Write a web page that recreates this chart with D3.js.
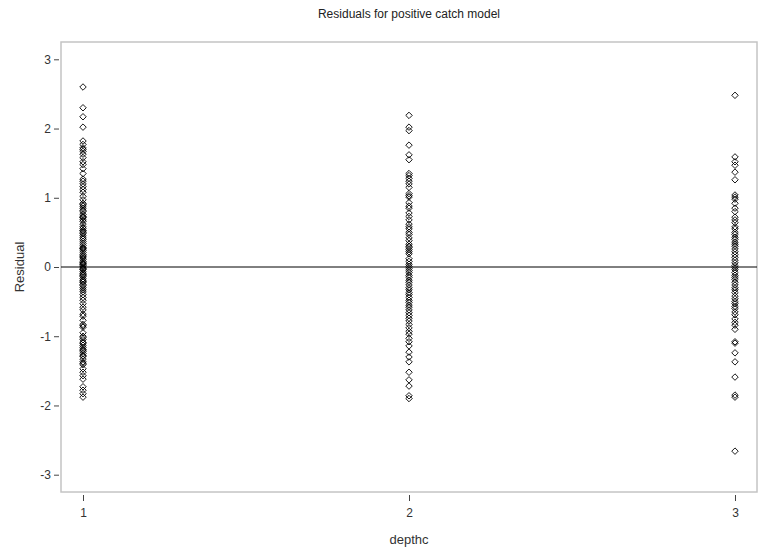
<!DOCTYPE html>
<html>
<head>
<meta charset="utf-8">
<script src="https://cdn.jsdelivr.net/npm/d3@7"></script>
<style>
  body { margin: 0; background: #fff; }
  svg { display: block; font-family: "Liberation Sans", Arial, sans-serif; }
  .tick text { fill: #333; font-size: 12px; }
  .tick line { stroke: #444; }
  .domain { display: none; }
</style>
</head>
<body>
<svg id="chart" width="768" height="548"></svg>
<script>
// residuals by depth class
const DEPTHS = [1, 2, 3];
const depth1 = [2.60, 2.30, 2.17, 2.02, 1.82, 1.77, 1.72, 1.70, 1.67, 1.63, 1.58, 1.52, 1.48, 1.42,
  1.35, 1.27, 1.24, 1.20, 1.16, 1.12, 1.08, 1.02, 0.97, 0.92, 0.90, 0.88, 0.85, 0.82, 0.80, 0.76,
  0.73, 0.72, 0.71, 0.68, 0.66, 0.62, 0.58, 0.56, 0.53, 0.52, 0.50, 0.48, 0.45, 0.42, 0.40, 0.37,
  0.34, 0.31, 0.28, 0.27, 0.26, 0.24, 0.21, 0.18, 0.16, 0.15, 0.13, 0.11, 0.08, 0.06, 0.05, 0.04,
  0.02, 0.00, -0.02, -0.03, -0.04, -0.07, -0.09, -0.11, -0.12, -0.14, -0.17, -0.19, -0.21, -0.22,
  -0.25, -0.27, -0.30, -0.33, -0.36, -0.40, -0.44, -0.48, -0.53, -0.58, -0.62, -0.68, -0.71, -0.77,
  -0.83, -0.85, -0.87, -0.95, -1.00, -1.02, -1.05, -1.09, -1.10, -1.13, -1.16, -1.19, -1.20, -1.22,
  -1.25, -1.28, -1.29, -1.33, -1.37, -1.39, -1.41, -1.47, -1.52, -1.57, -1.62, -1.73, -1.78, -1.83, -1.88];
const depth2 = [2.19, 2.02, 1.97, 1.76, 1.62, 1.55, 1.35, 1.32, 1.28, 1.24, 1.20, 1.15, 1.06, 1.03,
  1.01, 0.93, 0.88, 0.85, 0.78, 0.73, 0.68, 0.62, 0.58, 0.55, 0.50, 0.47, 0.42, 0.38, 0.33, 0.30,
  0.28, 0.25, 0.22, 0.19, 0.12, 0.08, 0.04, 0.01, -0.02, -0.05, -0.08, -0.12, -0.15, -0.19, -0.22,
  -0.26, -0.30, -0.33, -0.37, -0.40, -0.44, -0.48, -0.51, -0.55, -0.58, -0.62, -0.66, -0.70, -0.74,
  -0.78, -0.83, -0.88, -0.93, -0.97, -1.03, -1.08, -1.14, -1.23, -1.30, -1.37, -1.52, -1.63, -1.72,
  -1.86, -1.90];
const depth3 = [2.48, 1.59, 1.52, 1.47, 1.37, 1.26, 1.04, 1.01, 0.98, 0.92, 0.85, 0.80, 0.72, 0.68,
  0.64, 0.58, 0.55, 0.50, 0.47, 0.43, 0.40, 0.36, 0.33, 0.30, 0.26, 0.22, 0.18, 0.14, 0.10, 0.06,
  0.02, -0.01, -0.04, -0.08, -0.12, -0.15, -0.18, -0.22, -0.26, -0.30, -0.33, -0.37, -0.42, -0.46,
  -0.50, -0.53, -0.57, -0.60, -0.65, -0.69, -0.75, -0.80, -0.84, -0.90, -1.08, -1.10, -1.24, -1.37,
  -1.59, -1.85, -1.88, -2.66];
const Y_TICKS = [-3, -2, -1, 0, 1, 2, 3];

const VW = 768, VH = 548;
const M = { top: 42, right: 11, bottom: 56, left: 61 };
const W = VW - M.left - M.right;
const H = VH - M.top - M.bottom;

const svg = d3.select("#chart");
const g = svg.append("g").attr("transform", `translate(${M.left},${M.top})`);

const x = d3.scaleLinear().domain([0.9325, 3.0675]).range([0, W]);
const y = d3.scaleLinear().domain([-3.25, 3.25]).range([H, 0]);

// Frame
g.append("rect").attr("width", W).attr("height", H)
  .attr("fill", "none").attr("stroke", "#c4c4c4").attr("stroke-width", 1.5);

// Axes (ticks sit just outside the frame), plain hyphen for negatives
g.append("g").attr("transform", `translate(-2,0)`)
  .call(d3.axisLeft(y).tickValues(Y_TICKS).tickFormat(d => String(d)).tickSize(5).tickPadding(3));
g.append("g").attr("transform", `translate(0,${H + 3})`)
  .call(d3.axisBottom(x).tickValues(DEPTHS).tickFormat(d => String(d)).tickSize(6).tickPadding(7));

// Zero reference line
g.append("line").attr("x1", 0).attr("x2", W)
  .attr("y1", y(0)).attr("y2", y(0))
  .attr("stroke", "#000").attr("stroke-width", 1);

// Square diamond marker
const diamond = {
  draw(ctx, size) {
    const r = Math.sqrt(size) / 2;
    ctx.moveTo(0, -r); ctx.lineTo(r, 0); ctx.lineTo(0, r); ctx.lineTo(-r, 0); ctx.closePath();
  }
};
const sym = d3.symbol().type(diamond).size(42);

const points = [depth1, depth2, depth3].flatMap((vals, i) =>
  vals.map(v => ({ depth: DEPTHS[i], res: v })));

g.append("g").selectAll("path.pt")
  .data(points)
  .join("path").attr("class", "pt")
  .attr("transform", d => `translate(${x(d.depth)},${y(d.res)})`)
  .attr("d", sym)
  .attr("fill", "none").attr("stroke", "#000").attr("stroke-width", 0.9);

// Titles
svg.append("text").attr("x", M.left + W / 2).attr("y", 18)
  .attr("text-anchor", "middle").attr("font-size", 12).attr("fill", "#222")
  .text("Residuals for positive catch model");
svg.append("text").attr("transform", "rotate(-90)")
  .attr("x", -(M.top + y(0))).attr("y", 24)
  .attr("text-anchor", "middle").attr("font-size", 13).attr("fill", "#333")
  .text("Residual");
svg.append("text").attr("x", M.left + W / 2).attr("y", 544)
  .attr("text-anchor", "middle").attr("font-size", 13).attr("fill", "#333")
  .text("depthc");
</script>
</body>
</html>
